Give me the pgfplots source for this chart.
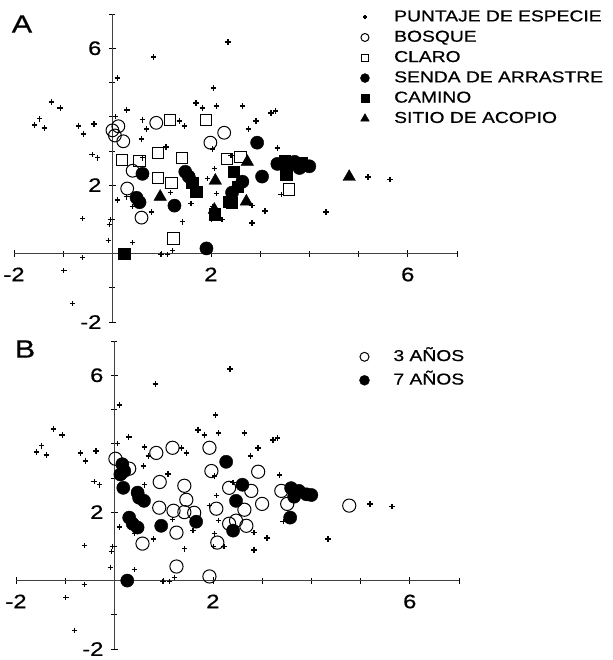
\documentclass[border=0pt]{standalone}
\usepackage{fontspec}
\setmainfont{Liberation Sans}[FakeStretch=1.22, FakeBold=0.6]
\usepackage{pgfplots}
\usepackage{pgfplotstable}
\pgfplotsset{compat=1.18}

\pgfplotstableread{
x y
2.35 6.18
0.83 5.74
0.10 5.13
2.05 4.84
-1.24 4.43
-1.06 4.26
-1.48 3.94
-1.58 3.76
-1.38 3.67
-0.69 3.73
-0.59 3.50
-0.37 3.79
0.06 4.00
0.29 4.20
0.61 3.91
0.69 3.64
0.59 3.35
1.36 3.88
1.46 3.73
1.09 3.12
1.70 4.40
1.83 4.26
2.11 4.31
2.64 4.31
2.92 3.88
2.76 3.64
3.22 4.11
3.31 4.17
2.03 3.06
3.35 3.09
-0.41 2.89
-0.30 2.80
0.10 1.57
0.29 1.66
0.41 1.37
0.79 1.22
-0.61 1.02
-0.04 0.99
-0.06 0.85
-0.08 0.38
0.41 0.32
1.18 1.78
1.60 1.46
1.42 0.93
2.07 2.48
1.93 2.19
2.11 1.75
2.03 1.37
2.01 0.99
2.23 0.99
2.84 1.40
3.10 1.25
2.84 0.90
0.99 -0.03
1.12 -0.03
1.22 0.09
-0.61 -0.12
-0.99 -0.50
-0.81 -1.46
3.43 1.72
5.19 2.24
5.64 2.16
4.34 1.22
0.61 2.80
2.41 2.86
}\species

\pgfplotstableread{
x y
0.00 3.60
0.12 3.72
0.22 3.28
0.05 3.45
0.89 3.82
2.27 3.53
1.99 3.24
0.41 2.42
0.30 1.90
0.59 1.05
}\bosque

\pgfplotstableread{
x y
1.17 3.90
1.90 3.90
0.20 2.74
0.55 2.70
0.92 2.94
1.42 2.80
2.33 2.76
2.60 2.82
0.93 2.20
1.20 2.07
3.59 1.87
1.24 0.44
}\claro

\pgfplotstableread{
x y
2.94 3.24
0.61 2.33
0.49 1.63
0.55 1.50
1.48 2.39
1.55 2.25
1.26 1.40
3.04 2.25
1.91 0.15
2.64 2.10
2.43 1.78
3.35 2.62
3.55 2.55
3.80 2.50
4.00 2.55
3.70 2.68
}\senda

\pgfplotstableread{
x y
0.24 0.00
1.62 2.07
1.70 1.80
2.47 2.39
2.37 1.52
2.42 1.49
2.07 1.15
2.55 1.95
3.53 2.30
3.50 2.72
3.85 2.65
}\camino

\pgfplotstableread{
x y
2.09 2.13
0.97 1.66
2.74 2.68
2.72 1.52
2.07 1.28
4.81 2.24
}\sitio

\pgfplotstableread{
x y
0.02 3.56
0.30 3.27
0.85 3.73
1.18 3.88
1.93 3.88
1.97 3.20
2.92 3.18
0.92 2.88
1.42 2.77
1.46 2.36
0.91 2.13
1.20 2.04
1.42 2.00
1.62 1.98
1.26 1.40
0.57 1.08
1.26 0.41
1.93 0.12
2.07 2.10
2.09 1.11
2.33 2.71
2.78 2.62
2.64 2.07
3.00 2.24
2.33 1.66
2.47 1.75
2.68 1.60
3.39 2.62
3.51 2.24
4.77 2.19
}\tres

\pgfplotstableread{
x y
0.16 3.40
0.20 3.20
0.12 3.10
2.27 3.47
0.18 2.71
0.47 2.57
0.50 2.42
0.60 2.33
1.66 1.72
0.95 1.60
0.30 1.84
0.37 1.66
0.47 1.55
0.26 0.00
2.60 2.80
2.47 2.33
2.41 1.46
3.59 2.70
3.75 2.62
3.90 2.52
4.00 2.50
3.65 2.45
3.57 1.84
}\siete

\pgfplotsset{
  panel/.style={
    scale only axis, width=443pt, height=308pt,
    xmin=-2, xmax=7, ymin=-2, ymax=7,
    axis lines=middle,
    axis line style={-, line width=0.7pt, black!75},
    xtick={-2,2,6}, ytick={-2,2,6},
    minor xtick={-1,0,1,3,4,5,7}, minor ytick={-1,0,1,3,4,5,7},
    xticklabels={-2,2,6}, yticklabels={-2,2,6},
    tick align=center, major tick length=7pt, minor tick length=6pt,
    every tick/.style={black, line width=0.6pt},
    xticklabel style={font=\fontsize{19.5}{20}\selectfont, yshift=-7pt},
    yticklabel style={font=\fontsize{19.5}{20}\selectfont, xshift=-4pt},
    clip=false,
    legend cell align=left,
    legend style={draw=none, fill=none,
      font=\fontsize{15.8}{16}\selectfont,
      nodes={inner sep=0.5pt, text height=11.5pt, text depth=3pt},
      column sep=0pt},
  },
  limg/.style={legend image code/.code={%
      \path (0pt,0pt) (37pt,0pt);
      \draw[##1, mark size=#1] plot coordinates {(9pt,0pt)};}},
  sp/.style={only marks, mark=+, mark size=2.8pt, line width=1.5pt, black},
}

\begin{document}
\begin{tikzpicture}
\path[use as bounding box] (0pt,0pt) rectangle (612pt,660pt);

% Panel A
\begin{axis}[panel, at={(14pt,338pt)}, anchor=south west,
  legend style={at={(axis description cs:0.763,1.022)}, anchor=north west, row sep=4.8pt}]
\addplot[sp, limg=2pt] table {\species};
\addlegendentry{PUNTAJE DE ESPECIE}
\addplot[only marks, mark=o, mark size=6.4pt, line width=1pt, black, limg=4pt] table {\bosque};
\addlegendentry{BOSQUE}
\addplot[only marks, mark=square, mark size=5.6pt, line width=1pt, black, limg=3.3pt] table {\claro};
\addlegendentry{CLARO}
\addplot[only marks, mark=*, mark size=6.6pt, black, limg=4.5pt] table {\senda};
\addlegendentry{SENDA DE ARRASTRE}
\addplot[only marks, mark=square*, mark size=5.6pt, black, limg=4pt] table {\camino};
\addlegendentry{CAMINO}
\addplot[only marks, mark=triangle*, mark size=7.2pt, black, limg=5pt] table {\sitio};
\addlegendentry{SITIO DE ACOPIO}
\end{axis}

% Panel B
\begin{axis}[panel, at={(16pt,11pt)}, anchor=south west,
  legend style={at={(axis description cs:0.758,0.981)}, anchor=north west, row sep=8pt}]
\addplot[sp, forget plot] table {\species};
\addplot[only marks, mark=o, mark size=6.6pt, line width=1pt, black, limg=4.5pt] table {\tres};
\addlegendentry{3 AÑOS}
\addplot[only marks, mark=*, mark size=6.6pt, black, limg=5pt] table {\siete};
\addlegendentry{7 AÑOS}
\end{axis}

\node[font=\fontsize{25}{25}\selectfont] at (22pt,636pt) {A};
\node[font=\fontsize{25}{25}\selectfont] at (25pt,311pt) {B};
\end{tikzpicture}
\end{document}
